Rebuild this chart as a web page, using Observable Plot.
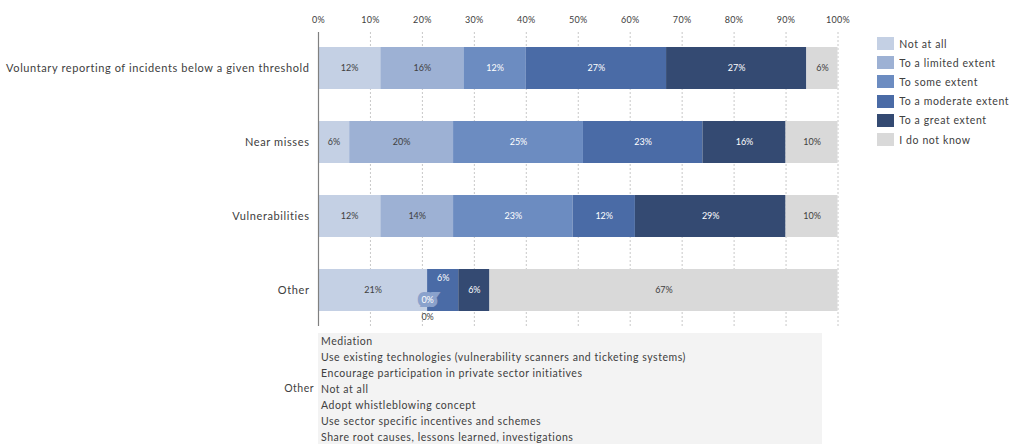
<!DOCTYPE html>
<html><head><meta charset="utf-8">
<script src="https://cdn.jsdelivr.net/npm/d3@7"></script>
<script src="https://cdn.jsdelivr.net/npm/@observablehq/plot@0.6"></script>
<style>
body{margin:0;background:#fff;font-family:Lato,sans-serif;}
#wrap{position:relative;width:1016px;height:444px;overflow:hidden;}
#chart{position:absolute;left:0;top:0;}
#legend{position:absolute;left:877px;top:34px;}
#legend [class$="-swatch"]{height:19.2px;margin:0;padding:0;font-size:10.5px;color:#404040;letter-spacing:0.6px;}
#otherLabel{position:absolute;left:250px;width:64px;text-align:right;top:380px;font-size:10.5px;color:#404040;line-height:16px;letter-spacing:0.5px;}
#other{position:absolute;left:318px;top:333px;width:504px;height:130px;background:#f3f3f3;}
#other div{font-size:10.5px;color:#404040;line-height:16px;padding-left:3px;white-space:nowrap;letter-spacing:0.55px;}
</style></head>
<body><div id="wrap"><div id="chart"></div><div id="legend"></div><div id="otherLabel">Other</div><div id="other"></div></div>
<script>
const categories = ["Voluntary reporting of incidents below a given threshold", "Near misses", "Vulnerabilities", "Other"];
const levels = ["Not at all", "To a limited extent", "To some extent", "To a moderate extent", "To a great extent", "I do not know"];
const notAtAll = [12, 6, 12, 21];
const limitedExtent = [16, 20, 14, 0];
const someExtent = [12, 25, 23, 0];
const moderateExtent = [27, 23, 12, 6];
const greatExtent = [27, 16, 29, 6];
const doNotKnow = [6, 10, 10, 67];
const xTicks = [0, 10, 20, 30, 40, 50, 60, 70, 80, 90, 100];
const otherResponses = [
  "Mediation",
  "Use existing technologies (vulnerability scanners and ticketing systems)",
  "Encourage participation in private sector initiatives",
  "Not at all",
  "Adopt whistleblowing concept",
  "Use sector specific incentives and schemes",
  "Share root causes, lessons learned, investigations"
];
const colors = ["#c4d0e4", "#9db1d4", "#6c8cc1", "#4a6ba6", "#344a72", "#d9d9d9"];

const series = [notAtAll, limitedExtent, someExtent, moderateExtent, greatExtent, doNotKnow];
const rows = [];
categories.forEach((c, i) => {
  let acc = 0;
  levels.forEach((l, j) => {
    const v = series[j][i];
    rows.push({category: c, level: l, j, value: v, x1: acc, x2: acc + v, mid: acc + v / 2, text: v + "%"});
    acc += v;
  });
});
const isOther = d => d.category === "Other";
const normal = rows.filter(d => !(isOther(d) && (d.value === 0 || d.level === "To a moderate extent")));
const otherZeroLimited = rows.filter(d => isOther(d) && d.value === 0 && d.level === "To a limited extent");
const otherZeroSome = rows.filter(d => isOther(d) && d.value === 0 && d.level === "To some extent");
const otherModerate = rows.filter(d => isOther(d) && d.level === "To a moderate extent");
const labelFill = d => (d.j >= 2 && d.j <= 4) ? "#ffffff" : "#404040";

const chart = Plot.plot({
  width: 1016, height: 330,
  marginLeft: 318, marginRight: 178.5, marginTop: 32, marginBottom: 4,
  style: {fontFamily: "Lato, sans-serif", fontSize: "9px", color: "#404040", background: "transparent"},
  x: {domain: [0, 100], axis: "top", ticks: xTicks, tickFormat: d => d + "%", tickSize: 0, tickPadding: 10, label: null},
  y: {domain: categories, paddingInner: 0.434, paddingOuter: 0.2, tickSize: 0, tickPadding: 9, label: null},
  color: {domain: levels, range: colors},
  marks: [
    Plot.ruleX(xTicks.slice(1), {stroke: "#c8c8c8", strokeDasharray: "2,2"}),
    Plot.barX(rows, {x1: "x1", x2: "x2", y: "category", fill: "level"}),
    Plot.ruleX([0], {stroke: "#808080", strokeWidth: 1.2}),
    Plot.text(normal, {x: "mid", y: "category", text: "text", fill: labelFill, fontSize: 9}),
    Plot.text(otherModerate, {x: "mid", y: "category", text: "text", fill: "#ffffff", fontSize: 9, dy: -12}),
    Plot.text(otherZeroSome, {x: "mid", y: "category", text: "text", fill: "#ffffff", stroke: "#8aa2cc", strokeWidth: 8, strokeLinejoin: "miter", paintOrder: "stroke", fontSize: 9, dy: 10}),
    Plot.text(otherZeroLimited, {x: "mid", y: "category", text: "text", fill: "#404040", fontSize: 9, dy: 27})
  ]
});
chart.querySelectorAll('g[aria-label="y-axis tick label"]').forEach(e => { e.setAttribute("font-size", "11"); e.setAttribute("letter-spacing", "0.6"); });
chart.querySelectorAll('g[aria-label="x-axis tick label"]').forEach(e => { e.setAttribute("letter-spacing", "0.3"); });
document.getElementById("chart").appendChild(chart);

const legend = Plot.legend({
  color: {domain: levels, range: colors},
  legend: "swatches", columns: 1, swatchWidth: 17, swatchHeight: 13,
  style: {fontFamily: "Lato, sans-serif", fontSize: "10.5px", color: "#404040"}
});
document.getElementById("legend").appendChild(legend);

const other = document.getElementById("other");
otherResponses.forEach(t => { const d = document.createElement("div"); d.textContent = t; other.appendChild(d); });
</script>
</body></html>
